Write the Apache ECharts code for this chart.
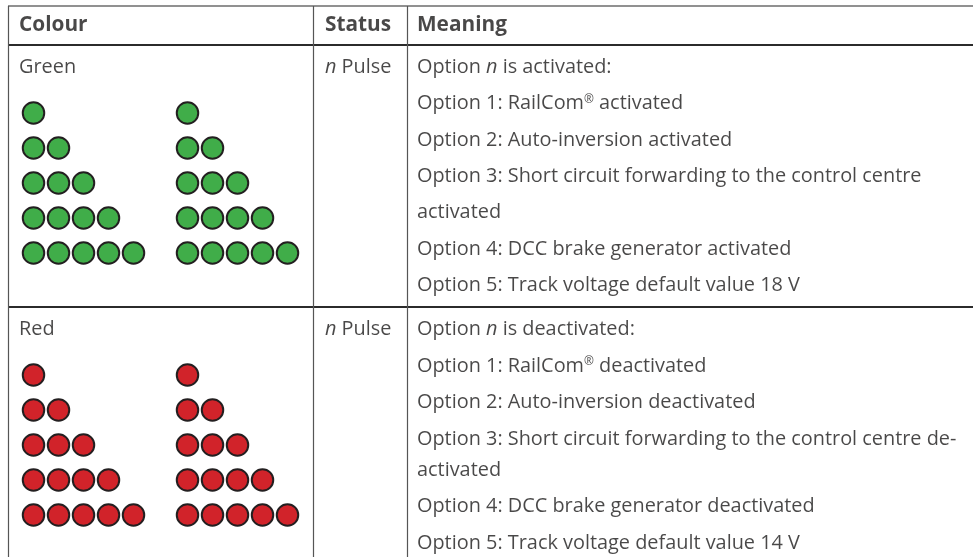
<!DOCTYPE html>
<html>
<head>
<meta charset="utf-8">
<script src="https://cdn.jsdelivr.net/npm/echarts@6/dist/echarts.min.js"></script>
<style>html,body{margin:0;padding:0;background:#fff}#c{width:973px;height:557px}</style>
</head>
<body>
<div id="c"></div>
<script>
// ---- data ----
const headers = ['Colour', 'Status', 'Meaning'];
const colourNames = ['Green', 'Red'];
const colourFills = ['#40ad49', '#d1232a'];
const statusText = '{i|n} Pulse';
const pulseCounts = [1, 2, 3, 4, 5];
const meaningGreen = [
  'Option {i|n} is activated:',
  'Option 1: RailCom{sup|®} activated',
  'Option 2: Auto-inversion activated',
  'Option 3: Short circuit forwarding to the control centre',
  'activated',
  'Option 4: DCC brake generator activated',
  'Option 5: Track voltage default value 18 V'
];
const greenWrapped = [false, false, false, false, false, false, false];
const meaningRed = [
  'Option {i|n} is deactivated:',
  'Option 1: RailCom{sup|®} deactivated',
  'Option 2: Auto-inversion deactivated',
  'Option 3: Short circuit forwarding to the control centre de-',
  'activated',
  'Option 4: DCC brake generator deactivated',
  'Option 5: Track voltage default value 14 V'
];
const redWrapped = [false, false, false, false, true, false, false];

// ---- layout ----
const W = 973, H = 557;
const xLeft = 8, xCol1 = 313, xCol2 = 407;
const yTop = 6, yHead = 45, ySep = 307;
const textX = [19, 325, 417];
const headY = 25.5;
const sectionTops = [yHead, ySep];
const firstLineOffset = 22.5;
const lineSteps = [36.3, 36.5];
const wrapStep = 31;
const dotFirstOffset = 68;
const dotRowStep = 35;
const dotGroupX = [33.5, 187.5];
const dotStep = 25;
const dotSize = 21.5;

const FAM = "'Open Sans', 'Noto Sans', sans-serif";
const TXT = '#1c1a1a';

function fitSize(text, target, weight) {
  const ctx = document.createElement('canvas').getContext('2d');
  ctx.font = weight + ' 20px ' + FAM;
  const w = ctx.measureText(text).width;
  return 20 * target / w;
}
const bodySize = fitSize('Option 3: Short circuit forwarding to the control centre', 505, 'normal');
const boldSize = fitSize('Meaning', 90, 'bold');

const rich = {
  i: { fontStyle: 'italic', fontSize: bodySize, fontFamily: FAM, color: TXT },
  sup: { fontSize: bodySize * 0.6, fontFamily: FAM, color: TXT, verticalAlign: 'top' }
};

// ---- build text points ----
const textData = [];
headers.forEach((h, k) => textData.push({ value: [textX[k], headY], name: h, bold: true }));
[meaningGreen, meaningRed].forEach((lines, s) => {
  const top = sectionTops[s];
  textData.push({ value: [textX[0], top + firstLineOffset], name: colourNames[s] });
  textData.push({ value: [textX[1], top + firstLineOffset], name: statusText });
  const wraps = s === 0 ? greenWrapped : redWrapped;
  let y = top + firstLineOffset;
  lines.forEach((t, i) => {
    if (i > 0) y += wraps[i] ? wrapStep : lineSteps[s];
    textData.push({ value: [textX[2], y], name: t });
  });
});

// ---- dots ----
const dotSeries = colourNames.map((name, s) => {
  const pts = [];
  pulseCounts.forEach((n, r) => {
    dotGroupX.forEach(gx => {
      for (let j = 0; j < n; j++) {
        pts.push([gx + j * dotStep, sectionTops[s] + dotFirstOffset + r * dotRowStep]);
      }
    });
  });
  return {
    type: 'scatter', name, data: pts, symbol: 'circle', symbolSize: dotSize,
    itemStyle: { color: colourFills[s], borderColor: '#231f20', borderWidth: 2, opacity: 1 },
    emphasis: { disabled: true }, silent: true, z: 5
  };
});

// ---- rules ----
function seg(x1, y1, x2, y2, color, width) {
  return { coords: [[x1, y1], [x2, y2]], lineStyle: { color, width } };
}
const rules = [
  seg(xLeft, yTop, W, yTop, '#6d6d6d', 1.6),
  seg(xLeft, yHead, W, yHead, '#2b2b2b', 2.2),
  seg(xLeft, ySep, W, ySep, '#2b2b2b', 2.2),
  seg(xLeft, yTop, xLeft, H, '#555', 1.2),
  seg(xCol1, yTop, xCol1, H, '#555', 1.2),
  seg(xCol2, yTop, xCol2, H, '#555', 1.2)
];

const chart = echarts.init(document.getElementById('c'), null, { renderer: 'canvas' });
chart.setOption({
  animation: false,
  backgroundColor: '#fff',
  grid: { left: 0, right: 0, top: 0, bottom: 0 },
  xAxis: { type: 'value', min: 0, max: W, show: false },
  yAxis: { type: 'value', min: 0, max: H, inverse: true, show: false },
  series: [
    {
      type: 'lines', coordinateSystem: 'cartesian2d', data: rules, silent: true, z: 2,
      symbol: ['none', 'none'], lineStyle: { opacity: 1 }
    },
    ...dotSeries,
    {
      type: 'scatter', symbolSize: 0, silent: true, z: 10,
      data: textData.map(d => ({
        value: d.value, name: d.name,
        label: d.bold ? { fontWeight: 'bold', fontSize: boldSize } : {}
      })),
      label: {
        show: true, position: 'right', distance: 0,
        formatter: p => p.name,
        fontFamily: FAM, fontSize: bodySize, color: TXT, rich
      }
    }
  ]
});
</script>
</body>
</html>
